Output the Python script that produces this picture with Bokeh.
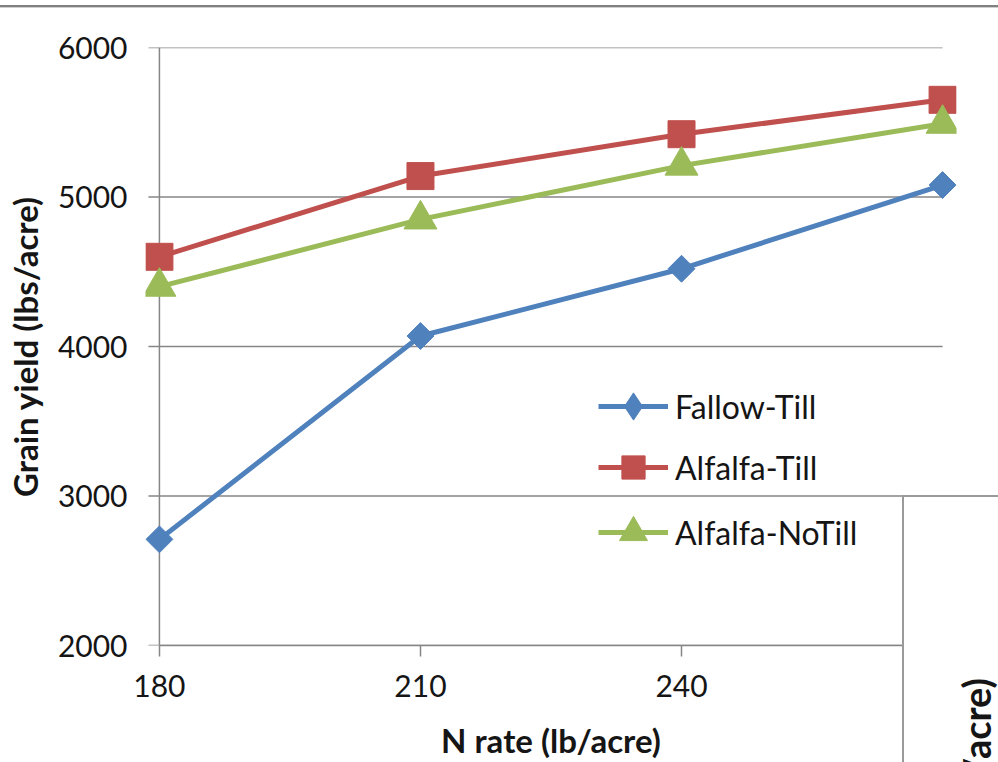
import numpy as np
from bokeh.plotting import figure
from bokeh.models import (Range1d, FixedTicker, Legend, LegendItem, LinearAxis,
                          ColumnDataSource, Span, Div)
from bokeh.layouts import column
from bokeh.embed import file_html
from bokeh.resources import INLINE

# ---------------- data ----------------
n_rates = [180, 210, 240, 270]
fallow_till = [2710, 4070, 4520, 5080]
alfalfa_till = [4600, 5140, 5420, 5650]
alfalfa_notill = [4400, 4850, 5210, 5490]
y_ticks = [2000, 3000, 4000, 5000, 6000]
x_tick_labels = ["180", "210", "240", "270"]
series_names = ["Fallow-Till", "Alfalfa-Till", "Alfalfa-NoTill"]
x_title = "N rate (lb/acre)"
y_title = "Grain yield (lbs/acre)"

# ---------------- style ----------------
W, H = 998, 762
FL, FR, FT, FB = 145, 956, 47, 646      # frame edges (canvas px)
x_pad = 1.6                             # room so end markers are not clipped
tick_len = 1.26                         # y tick length in x data units (~11px)
GRID = "#868686"
TXT = "#151515"
FONT = "Lato"
colors = ["#4F81BD", "#C0504D", "#9BBB59"]

p = figure(width=W, height=H, output_backend="svg", toolbar_location=None,
           x_range=Range1d(n_rates[0] - x_pad, n_rates[-1] + x_pad),
           y_range=Range1d(y_ticks[0], y_ticks[-1]),
           x_axis_type=None, y_axis_type=None,
           min_border_left=FL, min_border_right=W - FR,
           min_border_top=FT, min_border_bottom=H - FB)
p.outline_line_color = None
p.background_fill_color = "white"
p.border_fill_color = "white"

# gridlines + left tick marks, from the tick values
p.segment(x0=[n_rates[0] - tick_len] * len(y_ticks), x1=[n_rates[-1]] * len(y_ticks),
          y0=y_ticks, y1=y_ticks, line_color=GRID, line_width=1.5, level="underlay")
# y axis line at the first category
p.add_layout(Span(location=n_rates[0], dimension="height", line_color=GRID,
                  line_width=1.5, level="underlay"))

# axes
xaxis = LinearAxis(ticker=FixedTicker(ticks=n_rates), bounds=(n_rates[0], n_rates[-1]),
                   axis_label=x_title)
xaxis.major_label_overrides = {r: l for r, l in zip(n_rates, x_tick_labels)}
yaxis = LinearAxis(ticker=FixedTicker(ticks=y_ticks), axis_label=y_title)
for ax in (xaxis, yaxis):
    ax.axis_line_color = GRID
    ax.axis_line_width = 1.5
    ax.major_tick_line_color = GRID
    ax.major_tick_line_width = 1.5
    ax.major_tick_out = 11
    ax.major_tick_in = 0
    ax.minor_tick_line_color = None
    ax.major_label_text_font = FONT
    ax.major_label_text_font_size = "30px"
    ax.major_label_text_color = TXT
    ax.axis_label_text_font = FONT
    ax.axis_label_text_font_style = "bold"
    ax.axis_label_text_font_size = "33px"
    ax.axis_label_text_color = TXT
yaxis.axis_line_color = None
yaxis.major_tick_line_color = None
yaxis.major_tick_out = 0
xaxis.major_label_standoff = 18
xaxis.axis_label_standoff = 20
yaxis.major_label_standoff = 18
yaxis.axis_label_standoff = 10
p.add_layout(xaxis, "below")
p.add_layout(yaxis, "left")

# series
series = [fallow_till, alfalfa_till, alfalfa_notill]
marker_kw = [dict(marker="square", size=19, angle=np.pi / 4),
             dict(marker="square", size=27),
             dict(marker="triangle", size=33)]
legend_marker = ["diamond", "square", "triangle"]
legend_h = [68, 58, 70]
legend_center = [407, 468, 533]        # canvas y of each legend row
for name, ys, c, mk, lm, lh, lc in zip(series_names, series, colors, marker_kw,
                                       legend_marker, legend_h, legend_center):
    src = ColumnDataSource(dict(x=n_rates, y=ys))
    ln = p.line("x", "y", source=src, line_color=c, line_width=5)
    p.scatter("x", "y", source=src, fill_color=c, line_color=c, **mk)
    # legend-only marker (not-a-number point, never drawn in the plot)
    lg = p.scatter(x=[np.nan], y=[np.nan], marker=lm, fill_color=c, line_color=c)
    leg = Legend(items=[LegendItem(label=name, renderers=[ln, lg], index=0)],
                 location=(598 - FL, FB - (lc + lh / 2)),
                 glyph_width=70, glyph_height=lh, label_height=lh, spacing=0,
                 label_standoff=7, padding=0, margin=0,
                 label_text_font=FONT, label_text_font_size="32px",
                 label_text_color=TXT,
                 border_line_color=None, background_fill_alpha=0)
    p.add_layout(leg, "center")

# top grey band of the screenshot
band = Div(text="", margin=0,
           styles={"position": "absolute", "left": "0px", "top": "5px",
                   "width": f"{W}px", "height": "3px",
                   "background-color": "#808080",
                   "border-bottom": "1px solid #d0d0d0", "z-index": "10"})
# overlapping inset picture at bottom right (partly hidden chart)
inset_html = (
    '<div style="position:absolute; left:50px; top:181px; writing-mode:vertical-rl;'
    ' transform:rotate(180deg); font-family:Lato; font-weight:bold; font-size:38px;'
    f' color:{TXT}; white-space:nowrap; line-height:44px;">{y_title}</div>'
)
inset = Div(text=inset_html, margin=0,
            styles={"position": "absolute", "left": "902px", "top": "495px",
                    "width": f"{W - 902}px", "height": f"{H - 495}px",
                    "background-color": "white", "overflow": "hidden",
                    "border-left": "2px solid #9a9a9a", "border-top": "2px solid #9a9a9a",
                    "box-sizing": "border-box", "z-index": "10"})

root = column(p, band, inset)
open("out.html", "w").write(file_html(root, INLINE))
